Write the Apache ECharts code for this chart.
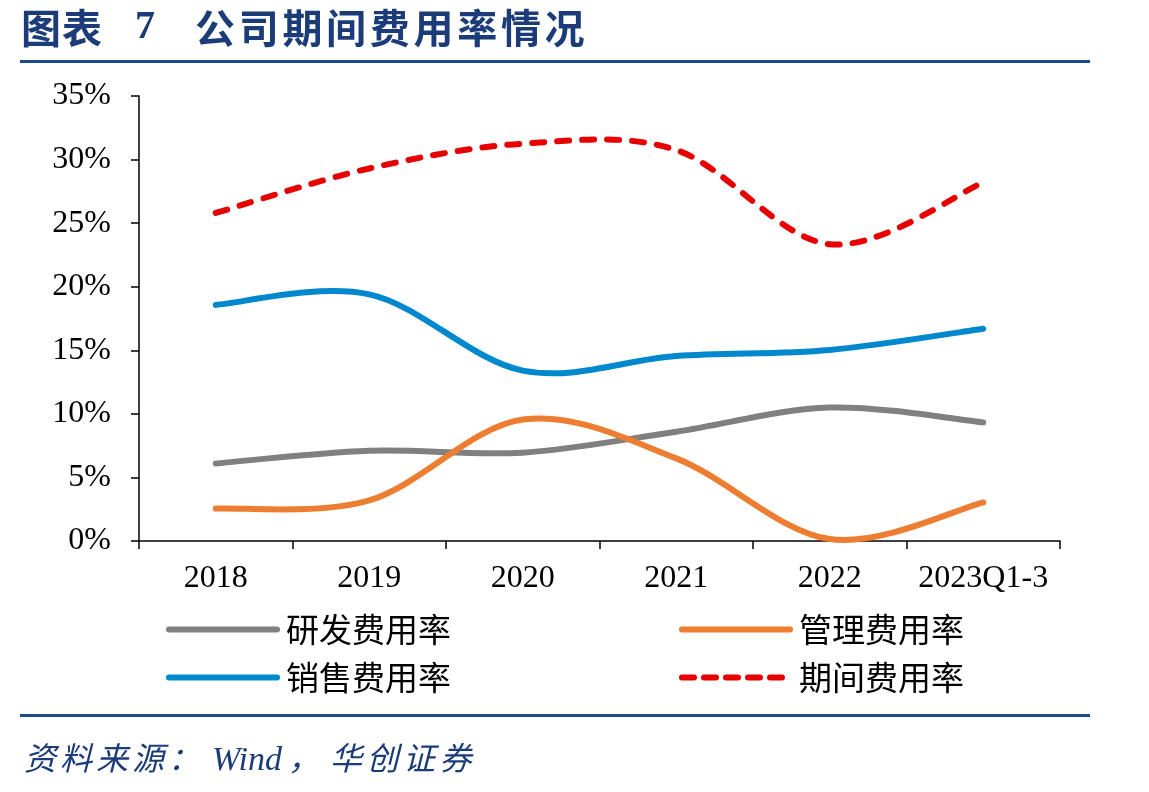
<!DOCTYPE html>
<html>
<head>
<meta charset="utf-8">
<title>公司期间费用率情况</title>
<script src="https://cdn.jsdelivr.net/npm/echarts@6/dist/echarts.min.js"></script>
<style>
  html, body { margin: 0; padding: 0; background: #fff; }
  #chart { width: 1149px; height: 792px; }
</style>
</head>
<body>
<div id="chart"></div>
<script>
// 数据
const years = ["2018", "2019", "2020", "2021", "2022", "2023Q1-3"];
const rdRate = [6.1, 7.1, 6.95, 8.6, 10.5, 9.33];          // 研发费用率
const adminRate = [2.55, 3.2, 9.55, 6.5, 0.15, 3.04];      // 管理费用率
const salesRate = [18.57, 19.4, 13.4, 14.55, 15.03, 16.7]; // 销售费用率
const periodRate = [25.8, 29.3, 31.25, 30.75, 23.34, 28.2]; // 期间费用率

const navy = "#1B3C78";
const serif = "'Liberation Serif', 'Times New Roman', serif";
const cjk = "'Noto Sans CJK SC', sans-serif";

const chart = echarts.init(document.getElementById("chart"));

// 逐字排开（原图字距较宽）
const spaced = (str, x, y, pitch, font) =>
  str.split("").map((c, i) => ({
    type: "text", left: x + i * pitch, top: y,
    style: { text: c, font: font, fill: navy }
  }));

const titleFont = "bold 40px " + cjk;
const srcFont = "italic 32px " + cjk;
const texts = [].concat(
  spaced("图表", 21, 8, 41, titleFont),
  [{ type: "text", left: 135, top: 8, style: { text: "7", font: "bold 40px " + serif, fill: navy } }],
  spaced("公司期间费用率情况", 195, 8, 43.7, titleFont),
  spaced("资料来源：", 24, 742, 36, srcFont),
  [{ type: "text", left: 212, top: 744, style: { text: "Wind", font: "italic 34px " + serif, fill: navy } }],
  spaced("，", 288, 742, 36, srcFont),
  spaced("华创证券", 330, 742, 36.5, srcFont)
);

// Excel 式平滑曲线（Catmull-Rom），坐标全部经 api.coord 换算
const curve = (values, color, dash) => (params, api) => {
  if (params.dataIndex !== 0) return null;
  const pts = values.map((v, i) => api.coord([i, v]));
  const n = pts.length;
  let d = "M" + pts[0][0] + " " + pts[0][1];
  for (let i = 0; i < n - 1; i++) {
    const p0 = pts[Math.max(i - 1, 0)], p1 = pts[i], p2 = pts[i + 1], p3 = pts[Math.min(i + 2, n - 1)];
    const c1x = p1[0] + (p2[0] - p0[0]) / 6, c1y = p1[1] + (p2[1] - p0[1]) / 6;
    const c2x = p2[0] - (p3[0] - p1[0]) / 6, c2y = p2[1] - (p3[1] - p1[1]) / 6;
    d += " C" + c1x + " " + c1y + " " + c2x + " " + c2y + " " + p2[0] + " " + p2[1];
  }
  return {
    type: "path",
    shape: { pathData: d },
    style: { stroke: color, lineWidth: 6, fill: null, lineCap: "round", lineJoin: "round", lineDash: dash || null }
  };
};

const lines = [
  { name: "研发费用率", values: rdRate, color: "#808080" },
  { name: "管理费用率", values: adminRate, color: "#ED7D31" },
  { name: "销售费用率", values: salesRate, color: "#0088CE" },
  { name: "期间费用率", values: periodRate, color: "#E60000", dash: [12, 13] }
];

// 图例用的空折线系列（只提供图例图标）
const legendSeries = lines.map(l => ({
  name: l.name, type: "line", data: [], symbol: "none",
  lineStyle: { color: l.color, width: 6, cap: "round", type: l.dash ? [12, 10] : "solid" },
  itemStyle: { color: l.color }
}));
const curveSeries = lines.map(l => ({
  name: l.name, type: "custom", data: l.values.map((v, i) => [i, v]),
  encode: { x: 0, y: 1 },
  renderItem: curve(l.values, l.color, l.dash),
  silent: true
}));

const mkLegend = (name, left, top) => ({
  data: [name],
  left: left,
  top: top,
  padding: 0,
  itemWidth: 108,
  itemHeight: 14,
  itemGap: 0,
  itemStyle: { opacity: 0 },
  lineStyle: { width: 6, cap: "round" },
  textStyle: { fontFamily: cjk, fontSize: 33, color: "#000", padding: [0, 0, 0, 4] }
});

const option = {
  animation: false,
  backgroundColor: "#fff",
  graphic: texts.concat([
    { type: "rect", shape: { x: 20, y: 60, width: 1070, height: 3 }, style: { fill: "#1F4A8A" } },
    { type: "rect", shape: { x: 20, y: 714, width: 1070, height: 3 }, style: { fill: "#1F4A8A" } }
  ]),
  legend: [
    mkLegend("研发费用率", 166, 613),
    mkLegend("管理费用率", 679, 613),
    mkLegend("销售费用率", 166, 661),
    mkLegend("期间费用率", 679, 661)
  ],
  grid: { left: 139, right: 89, top: 96, bottom: 251 },
  xAxis: {
    type: "category",
    data: years,
    boundaryGap: true,
    axisLine: { lineStyle: { color: "#000", width: 1.5 } },
    axisTick: { show: true, length: 8, lineStyle: { color: "#000", width: 1.5 } },
    axisLabel: { color: "#000", fontFamily: serif, fontSize: 32, margin: 22, interval: 0 },
    splitLine: { show: false }
  },
  yAxis: {
    type: "value",
    min: 0,
    max: 35,
    interval: 5,
    axisLine: { show: true, lineStyle: { color: "#000", width: 1.5 } },
    axisTick: { show: true, length: 8, lineStyle: { color: "#000", width: 1.5 } },
    axisLabel: { color: "#000", fontFamily: serif, fontSize: 32, margin: 28, formatter: "{value}%" },
    splitLine: { show: false }
  },
  series: legendSeries.concat(curveSeries)
};

chart.setOption(option);
</script>
</body>
</html>
